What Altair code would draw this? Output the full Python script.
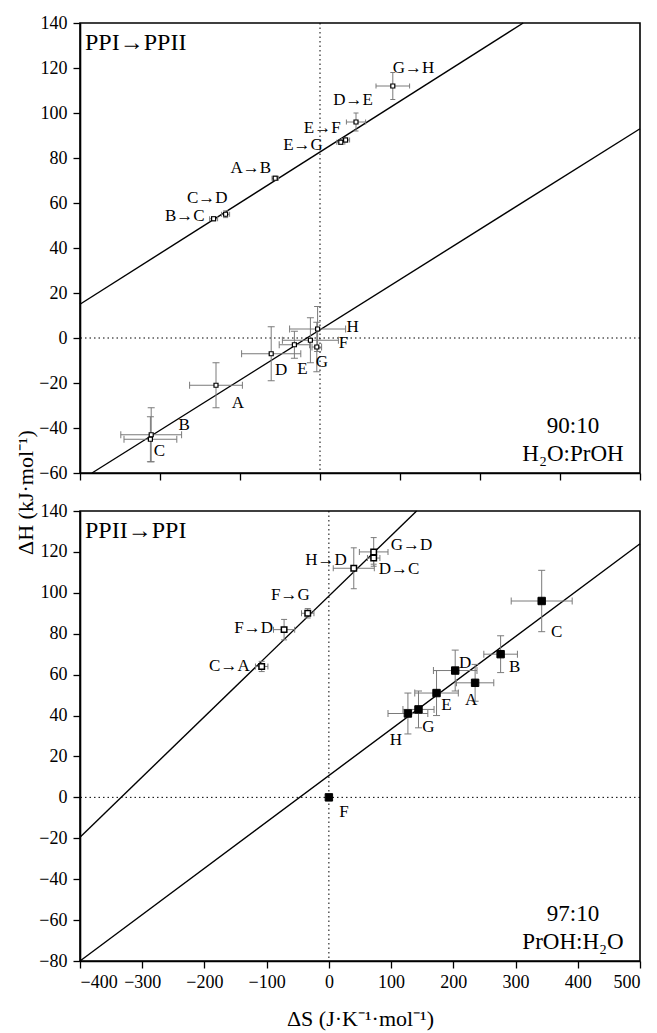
import altair as alt
import pandas as pd

FONT = "Liberation Serif"
GRAY = "#7a7a7a"

# ---------------- top panel: 90:10 H2O:PrOH ----------------
top_up_label = ["A→B", "B→C", "C→D", "D→E", "E→F", "E→G", "G→H"]
top_up_dS = [-56, -133, -118, 45, 32, 26, 91]
top_up_dH = [71, 53, 55, 96, 88, 87, 112]
top_up_dS_err = [4, 5, 5, 12, 5, 5, 21]
top_up_dH_err = [1, 1, 1.5, 4, 1, 1, 6]

top_lo_label = ["A", "B", "C", "D", "E", "F", "G", "H"]
top_lo_dS = [-130, -211, -212, -61, -32, -12, -4, -3]
top_lo_dH = [-21, -43, -45, -7, -3, -1, -4, 4]
top_lo_dS_err = [33, 38, 33, 37, 19, 35, 6, 35]
top_lo_dH_err = [10, 12, 10, 12, 6, 10, 11, 10]

top_fit_up_dS = [-300, 254]
top_fit_up_dH = [15, 140]
top_fit_lo_dS = [-285, 400]
top_fit_lo_dH = [-60, 93]

# ---------------- bottom panel: 97:10 PrOH:H2O ----------------
bot_up_label = ["C→A", "F→D", "F→G", "H→D", "G→D", "D→C"]
bot_up_dS = [-108, -72, -34, 40, 72, 72]
bot_up_dH = [64, 82, 90, 112, 120, 117]
bot_up_dS_err = [10, 17, 10, 33, 23, 10]
bot_up_dH_err = [2.5, 5, 2.3, 10, 7, 3]

bot_lo_label = ["A", "B", "C", "D", "E", "F", "G", "H"]
bot_lo_dS = [235, 276, 342, 203, 173, 0, 144, 127]
bot_lo_dH = [56, 70, 96, 62, 51, 0, 43, 41]
bot_lo_dS_err = [30, 27, 49, 35, 35, 0, 25, 32]
bot_lo_dH_err = [9, 9, 15, 10, 11, 0, 9, 10]

bot_fit_up_dS = [-400, 141]
bot_fit_up_dH = [-19.5, 140]
bot_fit_lo_dS = [-400, 500]
bot_fit_lo_dH = [-80, 124]

top_x_ticks = list(range(-300, 401, 50))
top_y_ticks = list(range(-60, 141, 10))
bot_x_ticks = list(range(-400, 501, 50))
bot_y_ticks = list(range(-80, 141, 10))

# label placement (align, dx, dy) in pixels relative to the point
top_up_off = {"A→B": ("right", -4, -10), "B→C": ("right", -9, -3), "C→D": ("right", 2, -16),
              "D→E": ("right", 17, -22), "E→F": ("right", -5, -12), "E→G": ("right", -18, 3),
              "G→H": ("left", 0, -18)}
top_lo_off = {"A": ("center", 22, 18), "B": ("center", 33, -10), "C": ("center", 9, 12),
              "D": ("center", 10, 16), "E": ("center", 8, 24), "F": ("center", 33, 3),
              "G": ("center", 5, 15), "H": ("center", 35, -2)}
bot_up_off = {"C→A": ("right", -12, 0), "F→D": ("right", -11, -2), "F→G": ("right", 2, -18),
              "H→D": ("right", -7, -8), "G→D": ("left", 17, -7), "D→C": ("left", 5, 11)}
bot_lo_off = {"A": ("center", -4, 17), "B": ("center", 14, 13), "C": ("center", 15, 31),
              "D": ("center", 10, -8), "E": ("center", 10, 12), "F": ("center", 15, 15),
              "G": ("center", 10, 18), "H": ("center", -12, 26)}


def series_df(lab, ds, dh, xe, ye):
    return pd.DataFrame({"label": lab, "dS": ds, "dH": dh, "xe": xe, "ye": ye})


def axis_def(ticks, major, labels=True, title=None, **kw):
    return alt.Axis(
        values=ticks,
        labels=labels,
        labelExpr=f"datum.value % {major} == 0 ? datum.label : ''",
        tickSize={"condition": {"test": f"datum.value % {major} != 0", "value": 4}, "value": 7},
        title=title,
        grid=False,
        **kw,
    )


def panel(xdom, ydom, xticks, yticks, series, fits, head, cond, show_x_labels, y_axis_title):
    xs = alt.Scale(domain=xdom, nice=False, zero=False)
    ys = alt.Scale(domain=ydom, nice=False, zero=False)
    if show_x_labels:
        xax = axis_def(xticks, 100, True, "ΔS (J·K⁻¹·mol⁻¹)", labelPadding=5,
                       titleY=64, titleBaseline="alphabetic")
    else:
        xax = axis_def(xticks, 100, False, None)
    if y_axis_title:
        yax = axis_def(yticks, 20, True, "ΔH (kJ·mol⁻¹)", labelPadding=6,
                       titleX=-48, titleY=-19, titleBaseline="alphabetic")
    else:
        yax = axis_def(yticks, 20, True, None, labelPadding=6)

    layers = []
    ref_h = pd.DataFrame({"v": [0]})
    layers.append(alt.Chart(ref_h).mark_rule(color="black", strokeWidth=1, strokeDash=[1.5, 3]).encode(
        y=alt.Y("v:Q", scale=ys, axis=yax)))
    layers.append(alt.Chart(ref_h).mark_rule(color="black", strokeWidth=1, strokeDash=[1.5, 3]).encode(
        x=alt.X("v:Q", scale=xs, axis=xax)))

    for (fx, fy) in fits:
        fdf = pd.DataFrame({"dS": fx, "dH": fy})
        layers.append(alt.Chart(fdf).mark_line(color="black", strokeWidth=1.4).encode(
            x=alt.X("dS:Q", scale=xs), y=alt.Y("dH:Q", scale=ys)))

    for s in series:
        df = s["df"]
        base = alt.Chart(df).transform_calculate(
            xlo="datum.dS - datum.xe", xhi="datum.dS + datum.xe",
            ylo="datum.dH - datum.ye", yhi="datum.dH + datum.ye")
        cap = s["cap"]
        layers.append(base.mark_rule(color=GRAY, strokeWidth=1).encode(
            x=alt.X("xlo:Q", scale=xs), x2="xhi:Q", y=alt.Y("dH:Q", scale=ys)))
        layers.append(base.mark_rule(color=GRAY, strokeWidth=1).encode(
            y=alt.Y("ylo:Q", scale=ys), y2="yhi:Q", x=alt.X("dS:Q", scale=xs)))
        layers.append(base.transform_filter("datum.xe > 0").transform_fold(["xlo", "xhi"], as_=["k", "xv"])
                      .mark_tick(orient="vertical", size=cap, thickness=1, color=GRAY, opacity=1).encode(
            x=alt.X("xv:Q", scale=xs), y=alt.Y("dH:Q", scale=ys)))
        layers.append(base.transform_filter("datum.ye > 0").transform_fold(["ylo", "yhi"], as_=["k", "yv"])
                      .mark_tick(orient="horizontal", size=cap, thickness=1, color=GRAY, opacity=1).encode(
            y=alt.Y("yv:Q", scale=ys), x=alt.X("dS:Q", scale=xs)))
        layers.append(alt.Chart(df).mark_point(
            shape="square", filled=True, fill=s["fill"], stroke="black",
            strokeWidth=s["sw"], size=s["size"], opacity=1).encode(
            x=alt.X("dS:Q", scale=xs), y=alt.Y("dH:Q", scale=ys)))
        for name, (al, dx, dy) in s["off"].items():
            layers.append(alt.Chart(df).transform_filter(alt.datum.label == name).mark_text(
                align=al, baseline="middle", dx=dx, dy=dy, font=FONT, fontSize=17, color="black").encode(
                x=alt.X("dS:Q", scale=xs), y=alt.Y("dH:Q", scale=ys), text="label:N"))

    layers.append(alt.Chart(ref_h).mark_text(
        align="left", baseline="alphabetic", font=FONT, fontSize=24, color="black").encode(
        x=alt.value(5), y=alt.value(27), text=alt.value(head)))
    layers.append(alt.Chart(ref_h).mark_text(
        align="center", baseline="alphabetic", font=FONT, fontSize=23, lineHeight=28,
        color="black").encode(
        x=alt.value(493), y=alt.value(410), text=alt.value(cond)))

    return alt.layer(*layers).properties(width=560, height=450)


top = panel(
    [-300, 400], [-60, 140], top_x_ticks, top_y_ticks,
    [
        {"df": series_df(top_lo_label, top_lo_dS, top_lo_dH, top_lo_dS_err, top_lo_dH_err),
         "cap": 7, "fill": "white", "sw": 1.2, "size": 16, "off": top_lo_off},
        {"df": series_df(top_up_label, top_up_dS, top_up_dH, top_up_dS_err, top_up_dH_err),
         "cap": 5, "fill": "white", "sw": 1.2, "size": 16, "off": top_up_off},
    ],
    [(top_fit_up_dS, top_fit_up_dH), (top_fit_lo_dS, top_fit_lo_dH)],
    "PPI→PPII", ["90:10", "H₂O:PrOH"], False, False,
)

bottom = panel(
    [-400, 500], [-80, 140], bot_x_ticks, bot_y_ticks,
    [
        {"df": series_df(bot_up_label, bot_up_dS, bot_up_dH, bot_up_dS_err, bot_up_dH_err),
         "cap": 6, "fill": "white", "sw": 1.5, "size": 30, "off": bot_up_off},
        {"df": series_df(bot_lo_label, bot_lo_dS, bot_lo_dH, bot_lo_dS_err, bot_lo_dH_err),
         "cap": 7, "fill": "black", "sw": 1, "size": 55, "off": bot_lo_off},
    ],
    [(bot_fit_up_dS, bot_fit_up_dH), (bot_fit_lo_dS, bot_fit_lo_dH)],
    "PPII→PPI", ["97:10", "PrOH:H₂O"], True, True,
)

chart = alt.vconcat(top, bottom, spacing=38, bounds="flush").properties(
    padding={"left": 5, "top": 5, "right": 5, "bottom": 2}
).configure_view(stroke="black", strokeWidth=1.6).configure_axis(
    domainColor="black", domainWidth=1.6, tickColor="black", tickWidth=1.3,
    labelFont=FONT, labelFontSize=18, labelColor="black",
    titleFont=FONT, titleFontSize=22, titleColor="black", titleFontWeight="normal",
).configure_text(font=FONT)

chart.save("out.html", embed_options={"renderer": "svg", "actions": False})
